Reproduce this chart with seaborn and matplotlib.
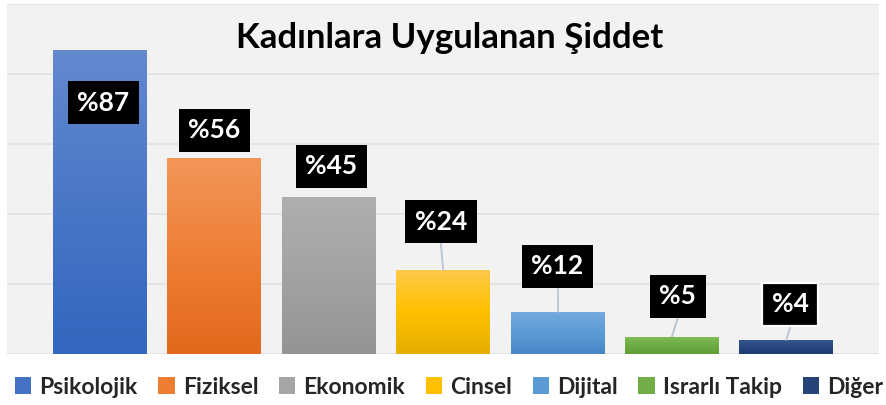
import numpy as np
import pandas as pd
import matplotlib
matplotlib.use("Agg")
import matplotlib.pyplot as plt
import seaborn as sns
from matplotlib.colors import LinearSegmentedColormap
from matplotlib.patches import Patch

# data
CATEGORIES = ["Psikolojik", "Fiziksel", "Ekonomik", "Cinsel", "Dijital", "Israrlı Takip", "Diğer"]
VALUES = [87, 56, 45, 24, 12, 5, 4]
TITLE = "Kadınlara Uygulanan Şiddet"

# style / layout
BASE_COLORS = ["#4472C4", "#ED7D31", "#A5A5A5", "#FFC000", "#5B9BD5", "#70AD47", "#264478"]
GRADIENTS = [  # (top, mid, bottom)
    ("#6489CF", "#4A77C6", "#3466C0"),
    ("#F4965A", "#EE7F35", "#E2691C"),
    ("#AFAFAF", "#A3A3A3", "#949494"),
    ("#FFC94A", "#FFC000", "#E5AE00"),
    ("#74AADF", "#5B9BD5", "#4686C6"),
    ("#7EBF52", "#6EAC45", "#5E9D35"),
    ("#34568F", "#284680", "#1E396C"),
]
LABEL_Y = [71.8, 64.0, 53.6, 37.8, 25.0, 16.5, 14.2]
LABEL_DX = [0.03, 0.0, 0.02, -0.02, 0.0, 0.05, 0.035]
GRID_COLOR = "#DDE2E9"
LEADER_COLOR = "#B9C4D3"
BOX_HALF = 6.3  # half box height in data units

sns.set_style("white")
plt.rcParams["font.family"] = ["Lato", "DejaVu Sans"]

df = pd.DataFrame({"kategori": CATEGORIES, "deger": VALUES})

fig = plt.figure(figsize=(8.87, 4.05), dpi=100)
fig.patch.set_facecolor("white")
ax = fig.add_axes([7 / 887, 51 / 405, 872 / 887, 350 / 405])
ax.set_facecolor("#F2F2F2")

sns.barplot(data=df, x="kategori", y="deger", hue="kategori", palette=BASE_COLORS,
            width=0.82, legend=False, ax=ax, zorder=2)

# vertical gradient fill, clipped to each bar
grad = np.linspace(0, 1, 256).reshape(-1, 1)
for patch, (top, mid, bot) in zip(ax.patches, GRADIENTS):
    x0, y0 = patch.get_x(), patch.get_y()
    w, h = patch.get_width(), patch.get_height()
    cmap = LinearSegmentedColormap.from_list("g", [bot, mid, top])
    im = ax.imshow(grad, extent=[x0, x0 + w, y0, y0 + h], origin="lower",
                   cmap=cmap, aspect="auto", zorder=3, interpolation="bicubic")
    im.set_clip_path(patch)
    patch.set_edgecolor("none")

ax.set_xlim(-0.813, 6.81)
ax.set_ylim(0, 100)
ax.set_yticks([0, 20, 40, 60, 80, 100])
ax.yaxis.grid(True, color=GRID_COLOR, linewidth=1.1, zorder=0)
ax.set_axisbelow(True)
ax.set_xticks([])
ax.set_yticklabels([])
ax.tick_params(left=False, bottom=False)
ax.set_xlabel("")
ax.set_ylabel("")
for s in ax.spines.values():
    s.set_visible(False)

# data labels with leader lines (only where the label sits well above the bar)
for i, (v, ly, dx) in enumerate(zip(VALUES, LABEL_Y, LABEL_DX)):
    lx = i + dx
    if ly - BOX_HALF > v + 3:
        ax.plot([i, lx], [v, ly - BOX_HALF], color=LEADER_COLOR, linewidth=1.3, zorder=4)
    ec = "white" if i == len(VALUES) - 1 else "none"
    ax.text(lx, ly, f"%{v}", ha="center", va="center", color="white",
            fontsize=19, fontweight="bold", zorder=6,
            bbox=dict(boxstyle="square,pad=0.36", fc="black", ec=ec, lw=1.6))

fig.text(450 / 887, 1 - 38 / 405, TITLE, ha="center", va="center",
         fontsize=25, fontweight="bold", color="black")

handles = [Patch(facecolor=c, edgecolor="none") for c in BASE_COLORS]
leg = fig.legend(handles, CATEGORIES, loc="center", bbox_to_anchor=(449 / 887, 1 - 387 / 405),
                 ncol=7, frameon=False, handlelength=0.72, handleheight=0.72,
                 handletextpad=0.35, columnspacing=0.9,
                 prop={"size": 16.5, "weight": "bold"})

fig.savefig("out.png", dpi=100, facecolor="white")
